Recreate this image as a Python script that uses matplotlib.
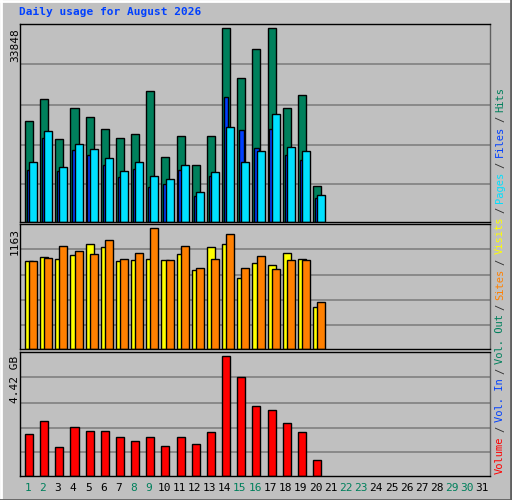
import matplotlib
matplotlib.use("Agg")
import matplotlib.pyplot as plt

days = list(range(1, 32))
hits = [17573, 21465, 14565, 19873, 18281, 16335, 14743, 15450, 22880, 11381,
        15096, 9966, 15096, 33848, 25180, 30311, 33848, 19873, 22173, 6251]
files = [9140, 14743, 8963, 12620, 11735, 10025, 7902, 9258, 6074, 6664,
         9140, 4482, 8079, 21819, 16158, 12973, 16335, 11735, 10850, 4128]
pages = [10497, 15981, 9612, 13681, 12796, 11204, 8904, 10497, 8020, 7489,
         9966, 5189, 8728, 16689, 10497, 12443, 18811, 13150, 12443, 4659]
visits = [843, 882, 862, 901, 1008, 979, 843, 853, 862, 853,
          911, 756, 979, 1008, 678, 824, 804, 921, 862, 407]
sites = [843, 872, 988, 940, 911, 1047, 862, 921, 1163, 853,
         988, 775, 862, 1105, 775, 892, 766, 853, 853, 455]
volume_gb = [1.56, 2.01, 1.05, 1.79, 1.64, 1.67, 1.42, 1.27, 1.42, 1.12,
             1.45, 1.16, 1.60, 4.42, 3.63, 2.56, 2.41, 1.93, 1.60, 0.57]
weekend = [1, 2, 8, 9, 15, 16, 22, 23, 29, 30]

W, H = 512, 500
fig = plt.figure(figsize=(W/100, H/100), dpi=100, facecolor="#c0c0c0")
mono = "DejaVu Sans Mono"

def ax_px(x0, y0, x1, y1):
    return fig.add_axes([x0/W, 1-y1/H, (x1-x0)/W, (y1-y0)/H])

fig.add_artist(plt.Line2D([0, 1], [0.999, 0.999], color="white", lw=2, transform=fig.transFigure))
fig.add_artist(plt.Line2D([0.001, 0.001], [0, 1], color="white", lw=2, transform=fig.transFigure))
fig.add_artist(plt.Line2D([0, 1], [0.001, 0.001], color="#606060", lw=2, transform=fig.transFigure))
fig.add_artist(plt.Line2D([0.999, 0.999], [0, 1], color="#606060", lw=2, transform=fig.transFigure))

panels = [(24, 222), (224, 349), (352, 476)]
n = len(hits)
xs = [d - 1 for d in days[:n]]

def setup(ax, top):
    ax.set_facecolor("#c0c0c0")
    ax.set_xlim(0, 31)
    ax.set_ylim(0, top)
    for f in (0.19, 0.39, 0.59, 0.80):
        ax.axhline(top*f, color="#808080", lw=1.2, zorder=0)
    ax.set_xticks([]); ax.set_yticks([])
    for s in ax.spines.values():
        s.set_color("black"); s.set_linewidth(1)
    ax.spines["right"].set_color("#606060")

kw = dict(edgecolor="black", linewidth=1, align="edge")
ax1 = ax_px(20, panels[0][0], 490, panels[0][1])
setup(ax1, 33848/0.978)
ax1.bar([x+0.33 for x in xs], hits, width=0.53, color="#00805c", **kw)
ax1.bar([x+0.45 for x in xs], files, width=0.3, color="#0040ff", **kw)
ax1.bar([x+0.6 for x in xs], pages, width=0.53, color="#00e0ff", **kw)

ax2 = ax_px(20, panels[1][0], 490, panels[1][1])
setup(ax2, 1163/0.968)
ax2.bar([x+0.33 for x in xs], visits, width=0.53, color="#ffff00", **kw)
ax2.bar([x+0.6 for x in xs], sites, width=0.53, color="#ff8000", **kw)

ax3 = ax_px(20, panels[2][0], 490, panels[2][1])
setup(ax3, 4.42/0.97)
ax3.bar([x+0.33 for x in xs], volume_gb, width=0.53, color="#ff0000", **kw)

for txt, y in (("33848", 28), ("1163", 228), ("4.42 GB", 356)):
    fig.text(15/W, 1-y/H, txt, rotation=90, ha="center", va="top", family=mono, fontsize=8)

fig.text(19/W, 1-12/H, "Daily usage for August 2026", color="#0040ff", family=mono,
         fontsize=8, fontweight="bold", ha="left", va="center")

for d in days:
    x = 20 + (d - 0.5) * 470/31
    fig.text(x/W, 1-488/H, str(d), ha="center", va="center", family=mono, fontsize=8,
             color="#00805c" if d in weekend else "black")

# right legend, drawn bottom-to-top as one continuous run
segs = [("Volume", "#ff0000"), ("/", "#303030"), ("Vol. In", "#0040ff"), ("/", "#303030"),
        ("Vol. Out", "#00805c"), ("/", "#303030"), ("Sites", "#ff8000"), ("/", "#303030"),
        ("Visits", "#ffff00"), ("/", "#303030"), ("Pages", "#00e0ff"), ("/", "#303030"),
        ("Files", "#0040ff"), ("/", "#303030"), ("Hits", "#00805c")]
renderer = fig.canvas.get_renderer()
ypx = 474.0
gap = 4.0
for w, c in segs:
    t = fig.text(500/W, 1-ypx/H, w, rotation=90, ha="center", va="bottom", family=mono,
                 fontsize=7.5, color=c)
    h = t.get_window_extent(renderer).height
    ypx -= h + gap

fig.savefig("out.png", dpi=100, facecolor=fig.get_facecolor())
